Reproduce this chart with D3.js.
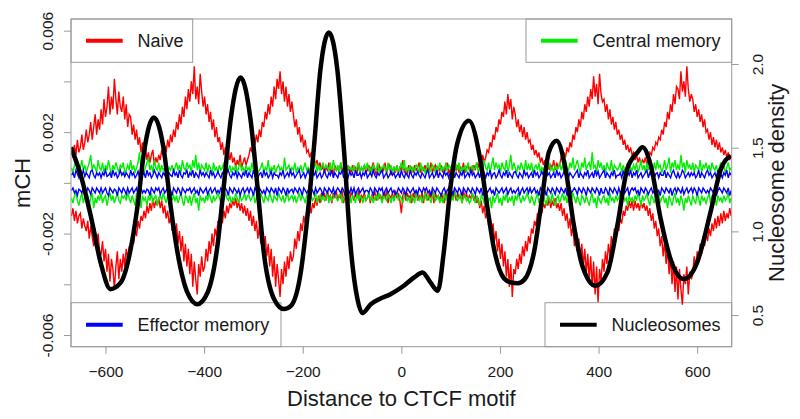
<!DOCTYPE html>
<html>
<head>
<meta charset="utf-8">
<script src="https://cdn.jsdelivr.net/npm/d3@7"></script>
<style>
  body { margin: 0; background: #fff; }
  svg { display: block; font-family: "Liberation Sans", Arial, sans-serif; }
</style>
</head>
<body>
<svg id="chart" width="800" height="419"></svg>
<script>
// Distance to CTCF motif (bp), one value every 3 bp
const positions = d3.range(-669, 670, 3);

// mCH in units of 1e-4; "Pos" = strand drawn above zero, "Neg" = strand drawn below
const naivePos = [
  13,10,15,11,17,12,14,19,13,16, 21,16,19,24,17,22,27,19,25,21,
  29,23,33,26,30,38,27,34,29,41, 33,27,36,30,28,34,25,31,22,27,
  26,19,23,17,21,15,18,12,16,11, 14,9,12,8,11,13,7,10,8,11,
  9,13,11,15,12,17,14,19,16,21, 18,24,21,27,23,30,26,34,29,37,
  32,40,35,46,33,38,31,43,36,30, 34,27,31,24,28,21,25,18,22,16,
  18,13,16,11,14,10,13,9,12,8, 10,6,9,7,11,6,8,10,7,9,
  11,14,12,17,15,19,16,21,18,24, 22,28,25,31,27,34,30,38,33,41,
  37,44,35,40,32,38,30,35,28,32, 27,22,25,19,22,16,19,14,17,12,
  13,10,12,8,10,7,9,6,8,5, 7,4,6,5,8,4,6,3,7,5,
  6,4,8,5,6,3,7,5,6,4, 7,5,6,3,8,4,6,5,7,4,
  5,7,4,6,8,5,3,6,7,4, 6,5,8,4,6,7,3,5,6,4,
  7,4,6,5,9,4,6,3,7,5, 6,4,7,5,6,8,4,6,5,7,
  4,6,5,8,4,6,7,3,6,5, 7,4,6,5,8,4,5,7,4,6,
  5,7,4,6,5,8,4,6,7,5, 6,4,7,5,8,6,9,7,11,8,
  10,13,12,16,14,19,17,22,20,25, 23,28,26,32,27,35,29,33,25,30,
  27,22,25,20,23,18,22,17,20,16, 17,13,15,11,13,10,12,8,10,7,
  9,6,8,5,7,6,9,5,8,6, 7,10,9,12,10,14,12,16,14,19,
  17,22,20,25,22,28,25,31,28,34, 30,37,33,42,34,39,31,43,35,32,
  33,28,31,25,29,23,26,21,24,19, 21,17,19,15,17,13,15,12,14,11,
  12,9,11,8,10,7,9,8,10,7, 9,12,11,14,13,16,15,18,17,21,
  19,24,22,28,25,31,28,35,31,38, 37,33,44,36,40,34,46,37,32,35,
  33,28,31,26,29,24,27,22,25,20, 21,17,20,15,18,14,17,13,16,12,
  14,11,13,10,12,9,11
];
const naiveNeg = [
  -13,-10,-15,-11,-16,-13,-12,-18,-14,-17, -19,-15,-22,-17,-21,-25,-18,-24,-20,-27,
  -28,-23,-31,-26,-35,-28,-39,-30,-34,-42, -33,-27,-38,-30,-35,-28,-33,-26,-30,-25,
  -27,-21,-24,-18,-21,-15,-18,-13,-15,-11, -14,-9,-12,-8,-11,-6,-10,-7,-9,-6,
  -10,-7,-12,-9,-14,-11,-16,-13,-19,-15, -21,-16,-24,-19,-27,-21,-31,-24,-33,-26,
  -36,-28,-41,-31,-38,-44,-32,-37,-29,-35, -33,-26,-31,-23,-28,-20,-25,-18,-21,-15,
  -18,-13,-16,-11,-14,-9,-12,-8,-10,-7, -9,-6,-10,-7,-11,-8,-12,-9,-13,-10,
  -15,-11,-17,-13,-19,-15,-22,-17,-24,-19, -27,-21,-29,-24,-33,-26,-37,-29,-41,-32,
  -38,-45,-34,-40,-31,-37,-29,-34,-27,-31, -29,-22,-26,-19,-23,-16,-19,-13,-16,-11,
  -14,-9,-12,-8,-10,-6,-9,-5,-8,-4, -6,-4,-7,-3,-6,-5,-8,-4,-6,-3,
  -7,-5,-6,-3,-8,-4,-6,-5,-7,-4, -5,-7,-4,-6,-3,-8,-5,-6,-4,-7,
  -6,-4,-8,-5,-6,-3,-7,-4,-6,-5, -7,-4,-6,-3,-8,-5,-6,-4,-7,-3,
  -6,-4,-7,-12,-5,-3,-7,-4,-6,-5, -8,-4,-6,-3,-7,-5,-6,-4,-8,-3,
  -5,-7,-4,-6,-3,-8,-4,-6,-5,-7, -4,-6,-8,-3,-6,-5,-7,-4,-6,-3,
  -7,-4,-6,-5,-8,-3,-6,-4,-7,-5, -6,-4,-7,-5,-8,-6,-10,-7,-12,-9,
  -14,-11,-17,-13,-20,-16,-23,-19,-27,-22, -30,-24,-33,-27,-37,-30,-41,-32,-45,-34,
  -36,-30,-34,-28,-32,-25,-29,-23,-27,-21, -24,-18,-20,-15,-17,-12,-14,-10,-12,-8,
  -10,-7,-9,-6,-10,-7,-9,-6,-10,-8, -11,-8,-13,-10,-15,-12,-18,-14,-21,-17,
  -25,-19,-27,-22,-30,-24,-33,-26,-36,-28, -38,-29,-41,-31,-44,-33,-47,-34,-39,-30,
  -35,-27,-32,-24,-29,-21,-25,-18,-22,-16, -19,-14,-16,-11,-13,-9,-11,-7,-10,-7,
  -11,-7,-10,-8,-11,-7,-10,-8,-11,-9, -13,-10,-15,-12,-18,-15,-21,-18,-25,-21,
  -29,-23,-32,-26,-36,-29,-40,-31,-43,-33, -46,-34,-42,-48,-36,-40,-33,-44,-35,-38,
  -36,-29,-34,-27,-31,-24,-28,-21,-25,-20, -23,-18,-21,-16,-19,-14,-18,-13,-17,-12,
  -16,-11,-15,-12,-14,-10,-13
];
const centralPos = [
  6,4,7,8,5,3,6,9,5,7, 4,6,8,11,5,7,6,4,9,6,
  5,8,4,7,5,9,6,3,7,5, 8,6,4,7,6,8,4,5,7,5,
  9,5,7,4,6,8,12,5,7,4, 6,8,10,5,7,4,9,6,5,8,
  4,7,5,6,8,4,6,5,7,4, 6,8,5,7,4,9,6,5,8,6,
  7,4,9,6,11,5,8,4,7,6, 5,8,4,7,6,3,8,5,6,4,
  7,5,6,8,4,6,5,7,4,6, 5,7,4,6,8,5,6,4,7,5,
  6,4,8,5,6,7,4,5,6,8, 4,6,5,9,4,6,5,7,4,6,
  7,5,6,4,10,5,6,7,4,6, 5,8,4,6,5,7,4,6,8,5,
  6,4,7,5,6,8,4,7,5,6, 8,5,7,6,5,8,4,9,6,5,
  7,4,8,6,5,9,4,7,5,6, 5,7,4,6,8,4,6,5,7,5,
  8,5,6,4,7,6,5,8,4,6, 5,7,6,4,8,5,7,4,6,5,
  7,4,6,8,5,9,4,6,5,7, 4,6,5,7,6,4,8,5,6,4,
  6,8,4,5,7,6,4,7,5,8, 5,6,4,8,5,7,6,4,6,5,
  7,5,8,4,6,5,7,4,8,6, 4,7,5,6,8,4,6,7,5,9,
  6,5,8,4,7,10,5,8,6,7, 4,8,6,5,9,4,7,11,5,8,
  6,4,7,5,8,6,4,9,5,7, 5,8,4,6,7,5,8,4,6,5,
  7,4,6,8,5,6,4,7,5,6, 8,5,7,4,9,6,5,8,6,10,
  5,7,9,6,4,8,6,10,5,7, 8,5,12,6,7,4,9,6,8,5,
  7,4,8,6,5,9,4,7,6,5, 6,8,4,7,5,6,8,4,6,5,
  7,5,8,4,6,9,5,7,4,8, 5,7,6,4,8,5,9,6,7,4,
  6,9,5,7,10,4,8,6,9,5, 7,5,11,6,8,4,9,6,7,5,
  8,4,7,6,5,9,4,7,6,8, 5,7,4,8,6,5,7,4,6,8,
  5,7,4,6,8,5,6
];
const centralNeg = [
  -6,-8,-5,-4,-7,-9,-6,-4,-8,-5, -7,-5,-9,-6,-4,-10,-6,-8,-5,-7,
  -4,-8,-6,-5,-9,-6,-4,-7,-5,-8, -6,-4,-7,-8,-5,-6,-5,-7,-4,-6,
  -8,-5,-7,-9,-4,-7,-6,-10,-5,-7, -6,-9,-5,-7,-4,-8,-6,-5,-9,-6,
  -5,-7,-4,-6,-8,-5,-6,-4,-7,-5, -7,-5,-8,-6,-4,-7,-9,-5,-6,-8,
  -5,-9,-6,-4,-8,-6,-11,-5,-7,-6, -8,-5,-7,-4,-6,-8,-5,-7,-6,-4,
  -6,-8,-5,-7,-4,-6,-7,-5,-8,-6, -7,-4,-6,-8,-5,-7,-6,-4,-7,-5,
  -5,-7,-6,-4,-8,-6,-5,-7,-4,-6, -8,-5,-6,-7,-4,-6,-8,-5,-6,-7,
  -4,-6,-7,-5,-8,-6,-4,-7,-6,-5, -7,-5,-8,-6,-4,-7,-5,-6,-8,-5,
  -6,-8,-5,-7,-6,-4,-8,-6,-5,-7, -5,-7,-6,-4,-8,-5,-7,-6,-4,-6,
  -7,-5,-4,-8,-6,-5,-7,-4,-6,-8, -5,-6,-8,-4,-7,-5,-6,-8,-5,-7,
  -6,-4,-7,-5,-8,-6,-5,-7,-4,-6, -8,-5,-6,-7,-4,-6,-8,-5,-7,-5,
  -4,-7,-5,-6,-8,-5,-4,-7,-6,-8, -5,-6,-8,-4,-6,-7,-5,-8,-6,-4,
  -7,-5,-6,-8,-5,-4,-7,-6,-5,-8, -6,-8,-4,-7,-5,-6,-8,-5,-7,-4,
  -5,-7,-6,-4,-8,-6,-5,-7,-6,-8, -7,-4,-6,-8,-5,-7,-9,-5,-6,-8,
  -9,-5,-7,-6,-10,-5,-8,-6,-4,-8, -6,-9,-5,-7,-4,-8,-6,-7,-5,-9,
  -5,-7,-4,-6,-8,-5,-7,-6,-4,-6, -8,-5,-7,-9,-6,-4,-8,-6,-10,-5,
  -7,-9,-5,-6,-8,-4,-7,-9,-6,-5, -8,-6,-4,-7,-5,-8,-6,-5,-7,-4,
  -6,-8,-5,-7,-9,-5,-6,-8,-5,-7, -9,-6,-4,-8,-6,-10,-5,-7,-8,-6,
  -5,-8,-6,-9,-4,-7,-6,-8,-5,-7, -6,-4,-8,-5,-7,-6,-9,-5,-7,-6,
  -8,-5,-7,-4,-6,-9,-5,-7,-6,-4, -7,-9,-5,-6,-8,-5,-7,-4,-8,-6,
  -5,-8,-6,-10,-5,-7,-9,-6,-4,-8, -6,-9,-5,-7,-11,-6,-8,-5,-7,-9,
  -5,-7,-8,-4,-6,-9,-5,-7,-6,-8, -6,-4,-8,-5,-7,-6,-9,-5,-7,-6,
  -8,-5,-7,-6,-4,-8,-6
];
const effectorPos = [
  3,4,2,5,3.5,2,4,3,5,2.5, 4,3,2,4.5,5,3,2,4,3,4,
  2,4,3,5,2.5,3,4,2,5,3, 4,2,3,5,3,4,2.5,4,3,2,
  5,3,4,2,3,4.5,2,4,3,4, 2,5,3,4,2,3,5,3.5,2,4,
  3,2,4,3,5,2,4,3,2.5,5, 3,4,2,5,3,2,4,3.5,5,2,
  4,3,5,2,4,3,2,5,3,4, 2.5,4,3,2,5,3,4,2,3,4.5,
  3,2,4,3,2,4,5,3,2,4, 3,4.5,2,4,3,2,4,3,5,2,
  4,3,2,5,3,4,2,3.5,4,2, 5,3,4,2,3,4.5,2,4,3,3,
  2,4,3,5,2,3,4,2.5,5,3, 4,2,3,4,5,2,3,4,2,3.5,
  5,3,2,4,3,4.5,2,3,4,2, 3,5,3,2,4,3,5,2,4,3,
  2,4,3.5,5,2,4,3,2,4.5,3, 4,2,5,3,3,4,2,4,3,5,
  2,3,4,2.5,5,3,2,4,3,4, 5,2,3,4,2,3,4.5,3,4,2,
  3,4,2,5,3,2,4,3,2,5, 3,2,4,3,4.5,3,2,4,3,2,
  4,5,2,3,4,2,3,5,2,4, 3,2,4.5,3,4,2,4,3,5,2,
  4,3,2,4,3,5,2,3,4,2.5, 5,3,4,2,3,4,2,5,3,4,
  2,4,3,5,2,3.5,4,2,3,5, 3,2,4,3,5,2,4,3,2,4,
  4.5,3,2,4,3,2,5,3,4,2, 3,4,2,5,3,4,2,3,4.5,3,
  2,5,3,4,2,3,4,2,5,3, 4,2,3,4.5,3,5,2,4,3,2,
  3,4,5,2,4,3,2,4,3,5, 2,3,4,2,5,3,4.5,2,3,4,
  5,2,4,3,2,4,3,5,2,3, 3,4,2,4.5,3,2,4,3,5,2,
  4,3,5,2,3,4,2,3,4,5, 2,4,3,5,2,3.5,4,2,4,3,
  3,5,2,4,3,2,4,5,3,2, 4,2,3,5,4,2,3,4,2.5,4,
  3,4,2,3,5,2,4,3,2,4, 5,3,4,2,3,4,2,5,3,3.5,
  2,4,3,5,2,4,3
];
const effectorNeg = [
  -3,-2,-4,-3,-5,-2.5,-3,-4,-2,-3, -4,-2,-3,-4.5,-2,-3,-4,-2,-3,-4,
  -2,-4,-3,-2,-4,-5,-2,-3,-4,-2.5, -3,-5,-2,-3,-4,-2,-3,-4.5,-2,-4,
  -3,-2,-4,-3,-2,-5,-3,-2,-4,-3, -4,-2.5,-3,-5,-2,-3,-4,-2,-3,-2,
  -4.5,-3,-2,-4,-3,-2,-4,-3,-5,-2, -3,-4,-2,-3,-5,-2,-3,-4,-2.5,-3,
  -2,-4,-3,-2,-4,-3,-5,-2,-3,-4, -3,-2,-4.5,-3,-2,-4,-3,-2,-4,-3,
  -4,-2,-3,-4,-2,-3,-5,-2,-3,-4, -2,-3,-4,-2.5,-5,-3,-2,-4,-3,-2,
  -4,-2,-3,-5,-2,-3,-4,-2,-3,-4, -3,-4.5,-2,-3,-4,-2,-3,-4,-2,-5,
  -2,-3,-4,-2,-3,-5,-2,-4,-3,-2.5, -4,-2,-3,-4,-2,-3,-5,-2,-3,-4,
  -3,-4,-2,-3,-4.5,-2,-4,-3,-2,-3, -5,-2,-3,-4,-2,-3,-4,-2,-4.5,-3,
  -2,-3,-4,-2,-3,-5,-2,-3,-4,-2, -4,-2,-4.5,-3,-2,-4,-3,-2,-4,-3,
  -3,-4,-2,-3,-5,-2,-3,-4,-2,-3, -2,-5,-3,-2,-4,-3,-2,-4,-3,-4.5,
  -4,-2,-3,-4,-2,-3,-5,-2,-3,-4, -3,-2,-4,-3,-4.5,-2,-3,-4,-2,-3,
  -2,-4,-3,-5,-2,-3,-4,-2,-3,-4, -5,-3,-2,-4,-3,-2,-4,-3,-4.5,-2,
  -3,-4,-2,-3,-5,-2,-3,-4,-2,-3, -4,-2,-3,-4.5,-2,-3,-4,-2,-5,-3,
  -2,-4,-3,-2,-4,-3,-5,-2,-3,-4, -3,-2,-4,-3,-2,-4.5,-3,-2,-4,-3,
  -4,-3,-2,-5,-3,-2,-4,-3,-2,-4, -2,-4,-3,-2,-4,-3,-5,-2,-3,-4,
  -3,-5,-2,-3,-4,-2,-3,-4.5,-2,-3, -4,-2,-3,-4,-2,-5,-3,-2,-4,-3,
  -2,-3,-4.5,-2,-3,-4,-2,-3,-5,-2, -3,-4,-2,-3,-4,-2,-3,-5,-2,-4,
  -4,-2,-3,-5,-2,-3,-4,-2,-3,-4.5, -2,-4,-3,-2,-4,-3,-2,-5,-3,-2,
  -3,-2,-4,-3,-5,-2,-3,-4,-2,-3, -4.5,-3,-2,-4,-3,-2,-4,-3,-5,-2,
  -3,-4,-2,-3,-4,-2,-5,-3,-2,-4, -2,-3,-4,-2,-4.5,-3,-2,-4,-3,-2,
  -4,-2,-3,-5,-2,-3,-4,-2,-3,-4, -3,-4,-2,-3,-4,-2,-5,-3,-2,-3,
  -4,-2,-3,-4,-2,-5,-3
];

// Nucleosome density (right axis)
const nucX = [-670,-650,-630,-610,-590,-569,-549,-535,-522,-502,-481,-468,-454,-434,-414,
  -393,-373,-360,-346,-326,-306,-292,-279,-258,-238,-224,-204,-191,-177,-164,
  -147,-130,-116,-103,-89,-79,-62,-45,-22,5,26,43,59,74,86,100,114,137,161,174,
  188,208,222,236,249,269,286,299,315,333,350,367,394,418,438,458,479,489,506,526,
  546,573,600,627,648,668];
const nucY = [1.502,1.333,1.093,0.815,0.655,0.695,0.894,1.153,1.472,1.681,1.472,1.153,0.874,0.635,0.565,
  0.635,0.914,1.273,1.671,1.920,1.671,1.273,0.874,0.595,0.536,0.555,0.755,1.074,1.512,1.970,
  2.189,1.970,1.472,0.914,0.595,0.512,0.565,0.595,0.625,0.675,0.725,0.755,0.695,0.645,0.874,1.273,1.532,1.661,1.412,1.153,
  0.894,0.720,0.695,0.690,0.710,0.874,1.213,1.472,1.542,1.372,1.034,0.795,0.675,0.755,1.034,1.372,1.472,1.502,1.392,1.074,
  0.834,0.715,0.815,1.114,1.372,1.452];

const xTicks = [-600, -400, -200, 0, 200, 400, 600];
const leftTicks = [-60, -40, -20, 0, 20, 40, 60];
const leftLabels = ["-0.006", "", "-0.002", "", "0.002", "", "0.006"];
const rightTicks = [0.5, 1.0, 1.5, 2.0];
const rightLabels = ["0.5", "1.0", "1.5", "2.0"];

const seriesNames = ["Naive", "Central memory", "Effector memory", "Nucleosomes"];
const seriesColours = ["#ff0000", "#00ee00", "#0000ff", "#000000"];

// ---- layout ----
const plotLeft = 71, plotRight = 731.7, plotTop = 19, plotBottom = 346.7;
const frameColour = "#999", textColour = "#1a1a1a";

const x = d3.scaleLinear().domain([-670, 670]).range([plotLeft, plotRight]);
const y = d3.scaleLinear().domain([-64.6, 64.6]).range([plotBottom, plotTop]);
const y2 = d3.scaleLinear().domain([0.311, 2.269]).range([plotBottom, plotTop]);

const svg = d3.select("#chart");
svg.append("rect").attr("width", 800).attr("height", 419).attr("fill", "#fff");

svg.append("defs").append("clipPath").attr("id", "plot-clip")
  .append("rect").attr("x", plotLeft).attr("y", plotTop)
  .attr("width", plotRight - plotLeft).attr("height", plotBottom - plotTop);

// legend boxes sit under the curves (the black curve crosses their edges)
const legendBoxes = [
  { i: 0, x: plotLeft, y: plotTop, w: 121.7 },
  { i: 1, x: 526, y: plotTop, w: plotRight - 526 },
  { i: 2, x: plotLeft, y: 302.7, w: 210 },
  { i: 3, x: 545, y: 302.7, w: plotRight - 545 }
];
const lg = svg.append("g");
legendBoxes.forEach(b => {
  const h = b.y === plotTop ? 43.3 : plotBottom - b.y;
  lg.append("rect").attr("x", b.x).attr("y", b.y).attr("width", b.w).attr("height", h)
    .attr("fill", "#fff").attr("stroke", frameColour).attr("stroke-width", 1);
  const cy = b.y + h / 2;
  lg.append("line").attr("x1", b.x + 15).attr("x2", b.x + 51.7)
    .attr("y1", cy).attr("y2", cy)
    .attr("stroke", seriesColours[b.i]).attr("stroke-width", 4);
  lg.append("text").attr("x", b.x + 66.5).attr("y", cy + 6.5)
    .attr("font-size", 18).attr("fill", textColour)
    .text(seriesNames[b.i]);
});

// ---- data lines ----
const plot = svg.append("g").attr("clip-path", "url(#plot-clip)");
const mchLine = d3.line().x((d, i) => x(positions[i])).y(d => y(d));

[[naivePos, naiveNeg, 0], [centralPos, centralNeg, 1], [effectorPos, effectorNeg, 2]]
  .forEach(([pos, neg, c]) => {
    [pos, neg].forEach(arr => {
      plot.append("path").datum(arr)
        .attr("d", mchLine)
        .attr("fill", "none")
        .attr("stroke", seriesColours[c])
        .attr("stroke-width", 1.4);
    });
  });

const nucLine = d3.line().curve(d3.curveMonotoneX)
  .x((d, i) => x(nucX[i])).y(d => y2(d));
plot.append("path").datum(nucY)
  .attr("d", nucLine)
  .attr("fill", "none")
  .attr("stroke", "#000")
  .attr("stroke-width", 4.5)
  .attr("stroke-linejoin", "round");

// ---- frame and axes ----
svg.append("rect").attr("x", plotLeft).attr("y", plotTop)
  .attr("width", plotRight - plotLeft).attr("height", plotBottom - plotTop)
  .attr("fill", "none").attr("stroke", frameColour);

function styleAxis(g) {
  g.attr("font-family", null).attr("font-size", null);
  g.select(".domain").remove();
  g.selectAll(".tick line").attr("stroke", frameColour);
  g.selectAll(".tick text").attr("fill", textColour).attr("font-size", 15.5);
}

const gx = svg.append("g").attr("transform", `translate(0,${plotBottom})`)
  .call(d3.axisBottom(x).tickValues(xTicks).tickSize(7));
styleAxis(gx);
gx.selectAll(".tick text").attr("y", 30.5).attr("dy", null);

const gy = svg.append("g").attr("transform", `translate(${plotLeft},0)`)
  .call(d3.axisLeft(y).tickValues(leftTicks).tickFormat((d, i) => leftLabels[i]).tickSize(7));
styleAxis(gy);
gy.selectAll(".tick text").attr("transform", "rotate(-90)")
  .attr("x", 0).attr("y", -18.5).attr("dy", null).attr("text-anchor", "middle");

const gy2 = svg.append("g").attr("transform", `translate(${plotRight},0)`)
  .call(d3.axisRight(y2).tickValues(rightTicks).tickFormat((d, i) => rightLabels[i]).tickSize(7));
styleAxis(gy2);
gy2.selectAll(".tick text").attr("transform", "rotate(-90)")
  .attr("x", 0).attr("y", 31).attr("dy", null).attr("text-anchor", "middle");

// ---- titles ----
svg.append("text").attr("x", (plotLeft + plotRight) / 2).attr("y", 406)
  .attr("text-anchor", "middle").attr("font-size", 22).attr("fill", textColour)
  .text("Distance to CTCF motif");
svg.append("text").attr("transform", `translate(30,${(plotTop + plotBottom) / 2}) rotate(-90)`)
  .attr("text-anchor", "middle").attr("font-size", 22).attr("fill", textColour)
  .text("mCH");
svg.append("text").attr("transform", `translate(783.5,${(plotTop + plotBottom) / 2}) rotate(-90)`)
  .attr("text-anchor", "middle").attr("font-size", 22).attr("fill", textColour)
  .text("Nucleosome density");
</script>
</body>
</html>
